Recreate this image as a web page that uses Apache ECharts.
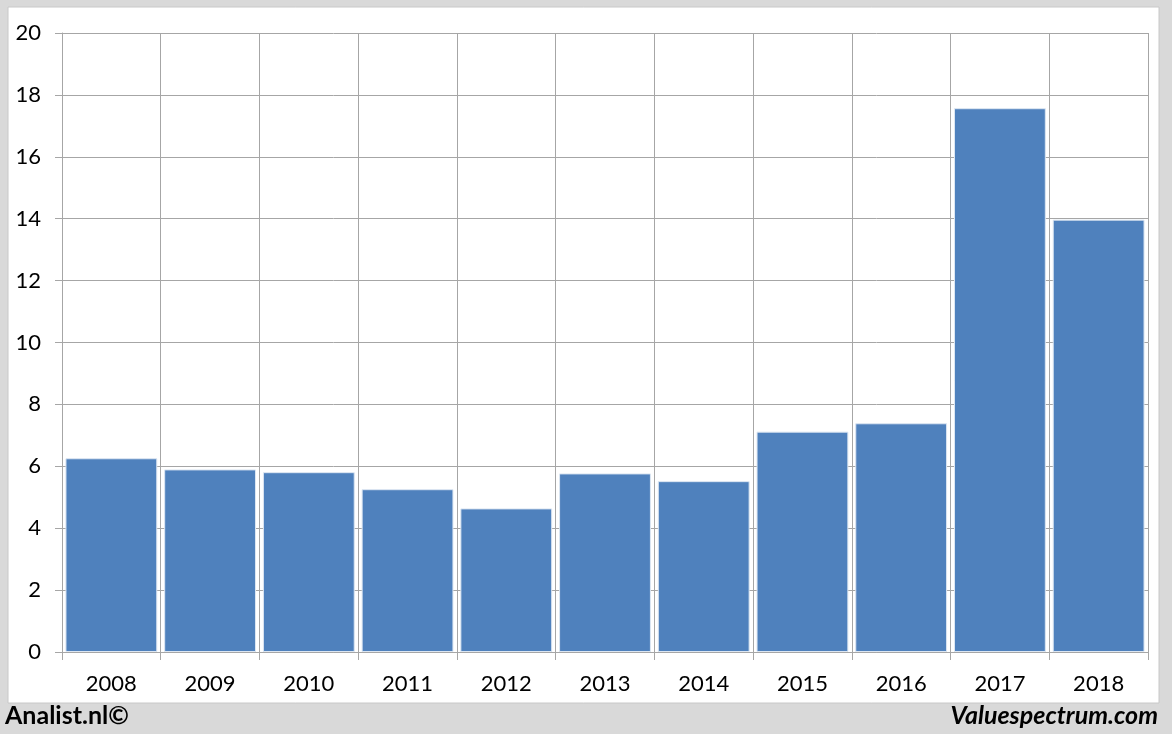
<!DOCTYPE html>
<html>
<head>
<meta charset="utf-8">
<script src="https://cdn.jsdelivr.net/npm/echarts@6/dist/echarts.min.js"></script>
<style>
html,body{margin:0;padding:0;background:#d9d9d9;}
#main{width:1172px;height:734px;}
</style>
</head>
<body>
<div id="main"></div>
<script>
var categories = ['2008','2009','2010','2011','2012','2013','2014','2015','2016','2017','2018'];
var values = [6.26, 5.90, 5.81, 5.26, 4.64, 5.77, 5.52, 7.12, 7.39, 17.57, 13.97];
var yTicks = {min: 0, max: 20, interval: 2};
var leftCredit = 'Analist.nl©';
var rightCredit = 'Valuespectrum.com';

var chart = echarts.init(document.getElementById('main'));
var gridColor = '#a6a6a6';
var font = 'Lato, "Open Sans", sans-serif';
chart.setOption({
  backgroundColor: '#d9d9d9',
  animation: false,
  graphic: [
    {type: 'rect', shape: {x: 8, y: 7, width: 1151, height: 696}, style: {fill: '#ffffff', stroke: '#c8c8c8', lineWidth: 1}, z: -10, silent: true},
    {type: 'text', left: 5, top: 703, style: {text: leftCredit, font: 'bold 25px ' + font, fill: '#000000'}},
    {type: 'text', right: 14, top: 703, style: {text: rightCredit, font: 'italic bold 25px ' + font, fill: '#000000'}}
  ],
  grid: {left: 62, top: 33, width: 1086, height: 619, containLabel: false},
  xAxis: {
    type: 'category',
    data: categories,
    boundaryGap: true,
    axisLine: {show: true, lineStyle: {color: gridColor, width: 1}},
    axisTick: {show: true, length: 8, lineStyle: {color: gridColor}},
    splitLine: {show: true, lineStyle: {color: gridColor, width: 1}},
    axisLabel: {fontSize: 22, color: '#000', fontFamily: font, margin: 21}
  },
  yAxis: {
    type: 'value',
    min: yTicks.min, max: yTicks.max, interval: yTicks.interval,
    axisLine: {show: true, lineStyle: {color: gridColor, width: 1}},
    axisTick: {show: true, length: 7, lineStyle: {color: gridColor}},
    splitLine: {show: true, lineStyle: {color: gridColor, width: 1}},
    axisLabel: {fontSize: 22, color: '#000', fontFamily: font, margin: 21}
  },
  series: [{
    type: 'bar',
    data: values,
    barCategoryGap: '7%',
    itemStyle: {color: '#4f81bd', borderColor: '#dce6f2', borderWidth: 1},
    z: 3
  }]
});
</script>
</body>
</html>
